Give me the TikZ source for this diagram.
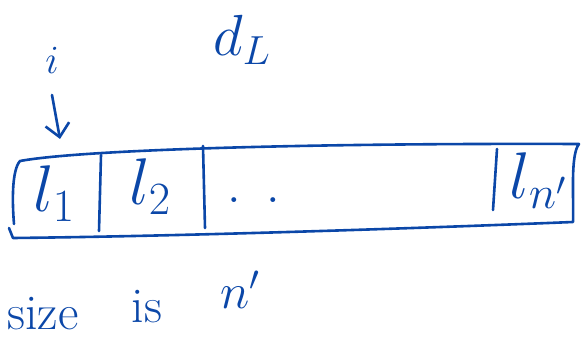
\RequirePackage{fix-cm}
\documentclass[tikz,border=0pt]{standalone}
\usetikzlibrary{arrows.meta}
\definecolor{ink}{HTML}{0B47A8}
\begin{document}
\begin{tikzpicture}[x=1pt,y=-1pt,
  pen/.style={draw=ink,line width=2.6pt,line cap=round,line join=round},
  cell/.style={text=ink,inner sep=0pt,font=\fontsize{66}{70}\selectfont},
  note/.style={text=ink,inner sep=0pt,font=\fontsize{50}{54}\selectfont}]
\useasboundingbox (0,0) rectangle (581,342);
% title
\node[note,font=\fontsize{58}{62}\selectfont] (title) at (242,40) {$d_{L}$};
% index pointer
\node[note,font=\fontsize{40}{44}\selectfont] (idx) at (52,60) {$i$};
\coordinate (ptop) at (52,95);
\coordinate (ptip) at (60,139);
\draw[pen,-{Straight Barb[length=13pt,width=24pt]}] (ptop) -- (ptip);
% array outline
\coordinate (tl) at (20,161);
\coordinate (tr) at (579,144);
\coordinate (br) at (573,222);
\coordinate (bl) at (13,238);
\draw[pen] (14,224) .. controls (12,200) and (12,170) .. (tl)
  .. controls (80,150) and (300,143) .. (tr)
  .. controls (570,155) and (574,200) .. (br)
  .. controls (450,227) and (200,236) .. (bl)
  -- (9,228);
% cell dividers
\coordinate (d1t) at (101,155); \coordinate (d1b) at (99,231);
\coordinate (d2t) at (203,146); \coordinate (d2b) at (205,228);
\coordinate (d3t) at (497,149); \coordinate (d3b) at (493,210);
\draw[pen] (d1t) -- (d1b);
\draw[pen] (d2t) -- (d2b);
\draw[pen] (d3t) -- (d3b);
% cell contents
\node[cell] (c1) at (54,194) {$l_1$};
\node[cell] (c2) at (150,187) {$l_2$};
\node[cell,font=\fontsize{50}{54}\selectfont] (c3) at (254,200) {$.\,\,\,.$};
\node[cell] (cn) at (538,181) {$l_{n'}$};
% size note
\node[note] (size) at (43,314) {size};
\node[note] (is) at (147,307) {is};
\node[note] (np) at (240,290) {$n'$};
\end{tikzpicture}
\end{document}
